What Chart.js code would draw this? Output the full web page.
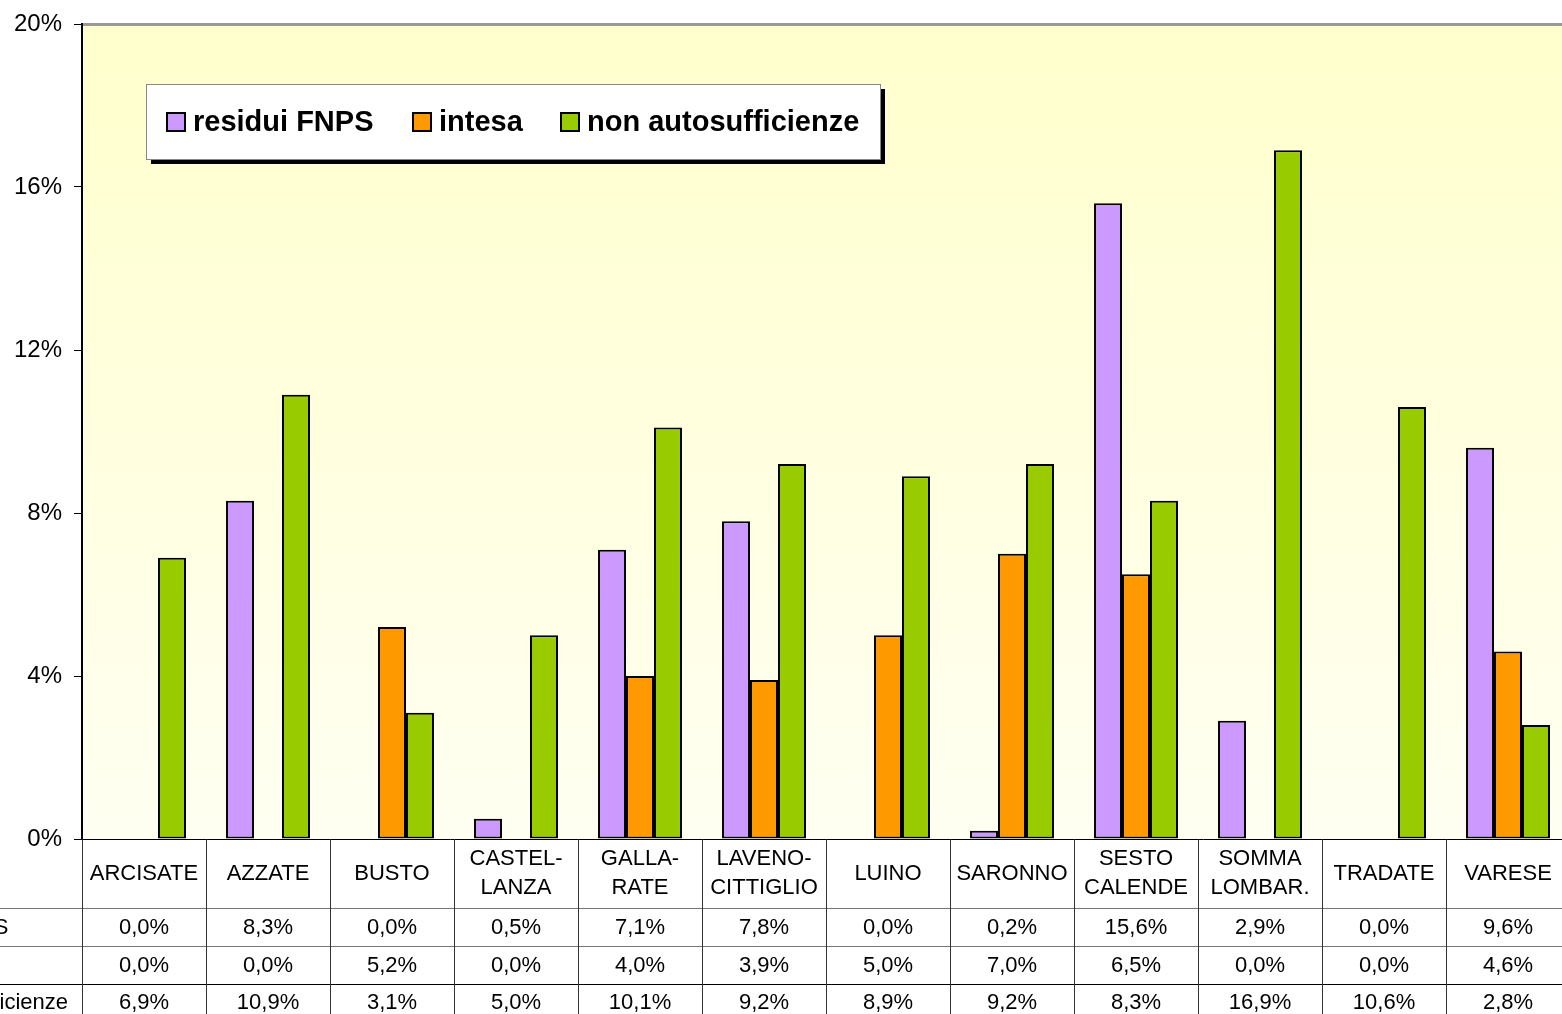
<!DOCTYPE html>
<html>
<head>
<meta charset="utf-8">
<script src="https://cdn.jsdelivr.net/npm/chart.js@4"></script>
<style>
  html, body { margin: 0; padding: 0; background: #fff; overflow: hidden; }
  #chart { position: absolute; left: 0; top: 0; }
</style>
</head>
<body>
<canvas id="chart" width="1580" height="1014"></canvas>
<script>
// dati
const categories = [['ARCISATE'], ['AZZATE'], ['BUSTO'], ['CASTEL-', 'LANZA'], ['GALLA-', 'RATE'],
    ['LAVENO-', 'CITTIGLIO'], ['LUINO'], ['SARONNO'], ['SESTO', 'CALENDE'], ['SOMMA', 'LOMBAR.'],
    ['TRADATE'], ['VARESE']];
const seriesNames = ['residui FNPS', 'intesa', 'non autosufficienze'];
const residuiFNPS = [0.0, 8.3, 0.0, 0.5, 7.1, 7.8, 0.0, 0.2, 15.6, 2.9, 0.0, 9.6];
const intesa = [0.0, 0.0, 5.2, 0.0, 4.0, 3.9, 5.0, 7.0, 6.5, 0.0, 0.0, 4.6];
const nonAutosufficienze = [6.9, 10.9, 3.1, 5.0, 10.1, 9.2, 8.9, 9.2, 8.3, 16.9, 10.6, 2.8];
const yTicks = [0, 4, 8, 12, 16, 20];

const colors = ['#CC99FF', '#FF9900', '#99CC00'];
const font = 'Arial, "Liberation Sans", sans-serif';

function fmt(v) {
    return v.toFixed(1).replace('.', ',') + '%';
}

// sfondo area grafico
const backgroundPlugin = {
    id: 'sfondo',
    beforeDraw(chart) {
        const { ctx, chartArea: a } = chart;
        const g = ctx.createLinearGradient(0, a.top, 0, a.bottom);
        g.addColorStop(0, '#FFFFCC');
        g.addColorStop(1, '#FFFFF2');
        ctx.save();
        ctx.fillStyle = g;
        ctx.fillRect(a.left, a.top, a.right - a.left, a.bottom - a.top);
        ctx.fillStyle = '#999999';
        ctx.fillRect(a.left, a.top - 1, a.right - a.left, 3);
        ctx.restore();
    }
};

// tabella dati + legenda
const tablePlugin = {
    id: 'tabella',
    afterDraw(chart) {
        const { ctx, chartArea: a, scales } = chart;
        const x = scales.x;
        const colW = (a.right - a.left) / categories.length;
        const top = a.bottom;
        const rowLines = [top + 69, top + 107, top + 145];
        const bottom = chart.height;
        ctx.save();

        // linee orizzontali
        ctx.lineWidth = 1;
        ctx.strokeStyle = '#000';
        ctx.beginPath();
        ctx.moveTo(a.left - 8, top + 0.5);
        ctx.lineTo(chart.width, top + 0.5);
        ctx.stroke();
        rowLines.forEach((y, i) => {
            ctx.strokeStyle = i === 2 ? '#000' : '#777';
            ctx.beginPath();
            ctx.moveTo(0, y + 0.5);
            ctx.lineTo(chart.width, y + 0.5);
            ctx.stroke();
        });

        // linee verticali
        ctx.strokeStyle = '#333';
        for (let i = 0; i <= categories.length; i++) {
            const xx = Math.round(a.left + i * colW) + 0.5;
            ctx.beginPath();
            ctx.moveTo(xx, top);
            ctx.lineTo(xx, bottom);
            ctx.stroke();
        }

        // intestazioni
        ctx.fillStyle = '#000';
        ctx.font = '22px ' + font;
        ctx.textAlign = 'center';
        ctx.textBaseline = 'middle';
        categories.forEach((lab, i) => {
            const cx = x.getPixelForValue(i);
            if (lab.length === 1) {
                ctx.fillText(lab[0], cx, top + 35);
            } else {
                ctx.fillText(lab[0], cx, top + 20);
                ctx.fillText(lab[1], cx, top + 49);
            }
        });

        // valori
        const rows = [residuiFNPS, intesa, nonAutosufficienze];
        const rowY = [top + 89, top + 127, top + 164];
        rows.forEach((vals, r) => {
            vals.forEach((v, i) => {
                ctx.fillText(fmt(v), x.getPixelForValue(i), rowY[r]);
            });
        });

        // etichette righe (tagliate a sinistra)
        ctx.textAlign = 'left';
        const startX = 68 - ctx.measureText(seriesNames[2]).width;
        seriesNames.forEach((n, r) => ctx.fillText(n, startX, rowY[r]));

        // legenda
        const lx = 146, ly = 84, lw = 734, lh = 75;
        ctx.fillStyle = '#000';
        ctx.fillRect(lx + 5, ly + 5, lw, lh);
        ctx.fillStyle = '#fff';
        ctx.fillRect(lx, ly, lw, lh);
        ctx.strokeStyle = '#888';
        ctx.strokeRect(lx + 0.5, ly + 0.5, lw, lh);
        ctx.font = 'bold 29px ' + font;
        const itemX = [166, 412, 560];
        chart.data.datasets.forEach((ds, i) => {
            ctx.fillStyle = ds.backgroundColor;
            ctx.fillRect(itemX[i], 112, 20, 20);
            ctx.strokeStyle = '#000';
            ctx.lineWidth = 2;
            ctx.strokeRect(itemX[i] + 1, 113, 18, 18);
            ctx.fillStyle = '#000';
            ctx.fillText(ds.label, itemX[i] + 27, 123);
        });
        ctx.restore();
    }
};

new Chart(document.getElementById('chart'), {
    type: 'bar',
    data: {
        labels: categories.map(c => c.join(' ')),
        datasets: [
            { label: seriesNames[0], data: residuiFNPS, backgroundColor: colors[0] },
            { label: seriesNames[1], data: intesa, backgroundColor: colors[1] },
            { label: seriesNames[2], data: nonAutosufficienze, backgroundColor: colors[2] }
        ].map(d => Object.assign(d, {
            borderColor: '#000',
            borderWidth: 2,
            borderSkipped: false,
            categoryPercentage: 0.677,
            barPercentage: 1
        }))
    },
    options: {
        responsive: false,
        animation: false,
        devicePixelRatio: 1,
        layout: { padding: { left: 0, right: 10, top: 18, bottom: 175 } },
        plugins: {
            legend: { display: false },
            tooltip: { enabled: false }
        },
        scales: {
            x: { display: false },
            y: {
                min: 0,
                max: 20,
                afterFit(scale) { scale.width = 82; },
                afterBuildTicks(scale) { scale.ticks = yTicks.map(v => ({ value: v })); },
                ticks: {
                    callback: v => v + '%',
                    color: '#000',
                    font: { family: font, size: 24, lineHeight: 1 },
                    padding: 12
                },
                grid: {
                    drawOnChartArea: false,
                    drawTicks: true,
                    tickLength: 8,
                    color: '#000'
                },
                border: { display: true, color: '#000', width: 2 }
            }
        }
    },
    plugins: [backgroundPlugin, tablePlugin]
});
</script>
</body>
</html>
